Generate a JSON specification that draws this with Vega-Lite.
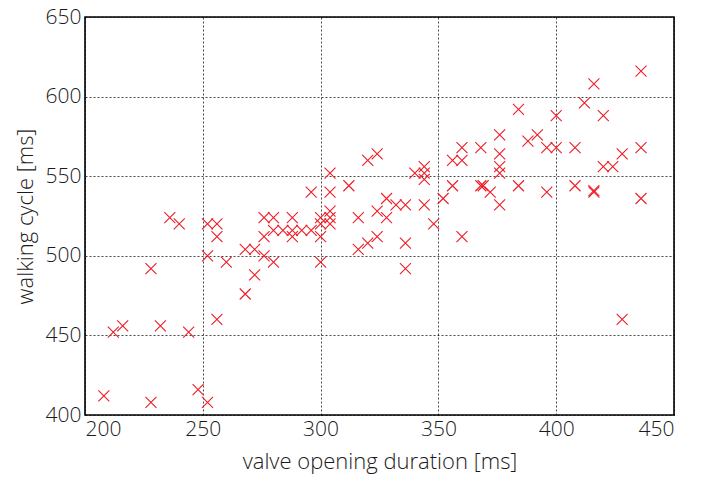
{
  "$schema": "https://vega.github.io/schema/vega-lite/v6.json",
  "width": 589,
  "height": 398,
  "autosize": {"type": "none"},
  "padding": {"left": 85, "top": 17, "right": 41, "bottom": 66},
  "background": "white",
  "config": {
    "view": {"stroke": "#000000", "strokeWidth": 1.6},
    "axis": {
      "labelFont": "Open Sans",
      "titleFont": "Open Sans",
      "labelFontSize": 21,
      "titleFontSize": 22,
      "labelFontWeight": 300,
      "titleFontWeight": 300,
      "labelColor": "#1a1a1a",
      "titleColor": "#1a1a1a",
      "grid": true,
      "gridColor": "#000000",
      "gridDash": [2, 2],
      "gridWidth": 0.8,
      "gridOpacity": 0.9,
      "domain": false,
      "ticks": false
    }
  },
  "data": {
    "values": [
      {"x": 208, "y": 412}, {"x": 212, "y": 452}, {"x": 216, "y": 456}, {"x": 228, "y": 492},
      {"x": 228, "y": 408}, {"x": 232, "y": 456}, {"x": 236, "y": 524}, {"x": 240, "y": 520},
      {"x": 244, "y": 452}, {"x": 248, "y": 416}, {"x": 252, "y": 408}, {"x": 252, "y": 520},
      {"x": 252, "y": 500}, {"x": 256, "y": 520}, {"x": 256, "y": 512}, {"x": 256, "y": 460},
      {"x": 260, "y": 496}, {"x": 268, "y": 476}, {"x": 268, "y": 504}, {"x": 272, "y": 504},
      {"x": 272, "y": 488}, {"x": 276, "y": 524}, {"x": 276, "y": 512}, {"x": 276, "y": 500},
      {"x": 280, "y": 524}, {"x": 280, "y": 516}, {"x": 280, "y": 496}, {"x": 284, "y": 516},
      {"x": 288, "y": 516}, {"x": 288, "y": 524}, {"x": 288, "y": 512}, {"x": 292, "y": 516},
      {"x": 296, "y": 540}, {"x": 296, "y": 516}, {"x": 300, "y": 524}, {"x": 300, "y": 520},
      {"x": 300, "y": 512}, {"x": 300, "y": 496}, {"x": 304, "y": 552}, {"x": 304, "y": 540},
      {"x": 304, "y": 528}, {"x": 304, "y": 524}, {"x": 304, "y": 520}, {"x": 312, "y": 544},
      {"x": 316, "y": 524}, {"x": 316, "y": 504}, {"x": 320, "y": 560}, {"x": 320, "y": 508},
      {"x": 324, "y": 564}, {"x": 324, "y": 528}, {"x": 324, "y": 512}, {"x": 328, "y": 536},
      {"x": 328, "y": 524}, {"x": 332, "y": 532}, {"x": 336, "y": 532}, {"x": 336, "y": 508},
      {"x": 336, "y": 492}, {"x": 340, "y": 552}, {"x": 344, "y": 556}, {"x": 344, "y": 552},
      {"x": 344, "y": 548}, {"x": 344, "y": 532}, {"x": 348, "y": 520}, {"x": 352, "y": 536},
      {"x": 356, "y": 560}, {"x": 356, "y": 544}, {"x": 360, "y": 568}, {"x": 360, "y": 560},
      {"x": 360, "y": 512}, {"x": 368, "y": 568}, {"x": 368, "y": 544}, {"x": 369, "y": 544},
      {"x": 372, "y": 540}, {"x": 376, "y": 576}, {"x": 376, "y": 564}, {"x": 376, "y": 556},
      {"x": 376, "y": 552}, {"x": 376, "y": 532}, {"x": 384, "y": 592}, {"x": 384, "y": 544},
      {"x": 388, "y": 572}, {"x": 392, "y": 576}, {"x": 396, "y": 568}, {"x": 396, "y": 540},
      {"x": 400, "y": 588}, {"x": 400, "y": 568}, {"x": 408, "y": 568}, {"x": 408, "y": 544},
      {"x": 412, "y": 596}, {"x": 416, "y": 608}, {"x": 416, "y": 540}, {"x": 416, "y": 541},
      {"x": 420, "y": 588}, {"x": 420, "y": 556}, {"x": 424, "y": 556}, {"x": 428, "y": 564},
      {"x": 428, "y": 460}, {"x": 436, "y": 616}, {"x": 436, "y": 568}, {"x": 436, "y": 536}
    ]
  },
  "mark": {
    "type": "point",
    "shape": "M-1,-1L1,1M-1,1L1,-1",
    "filled": false,
    "stroke": "#ee1c25",
    "strokeWidth": 1.1,
    "size": 121,
    "opacity": 1
  },
  "encoding": {
    "x": {
      "field": "x",
      "type": "quantitative",
      "scale": {"domain": [200, 450], "nice": false, "zero": false},
      "axis": {"values": [200, 250, 300, 350, 400, 450], "title": "valve opening duration [ms]", "labelPadding": 3, "titlePadding": 12}
    },
    "y": {
      "field": "y",
      "type": "quantitative",
      "scale": {"domain": [400, 650], "nice": false, "zero": false},
      "axis": {"values": [400, 450, 500, 550, 600, 650], "title": "walking cycle [ms]", "labelPadding": 4, "titlePadding": 8}
    }
  }
}
